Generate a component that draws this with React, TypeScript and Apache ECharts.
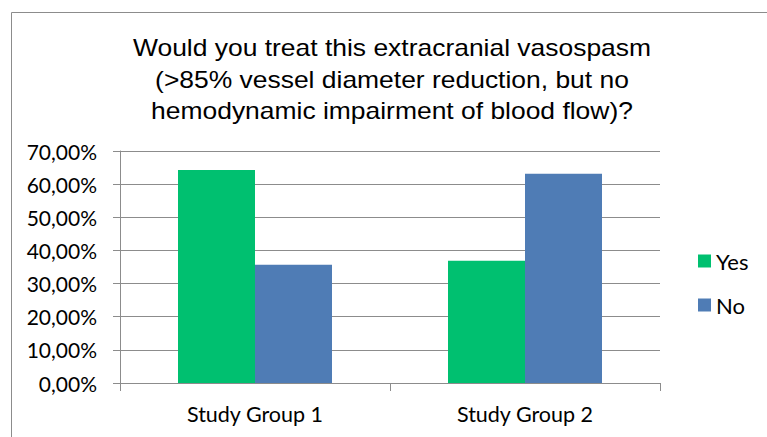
import React, { useEffect, useRef } from "react";
import * as echarts from "echarts";

const categories = ["Study Group 1", "Study Group 2"];
const yesValues = [64.3, 36.9];
const noValues = [35.7, 63.1];
const seriesNames = ["Yes", "No"];
const titleLines = [
  "Would you treat this extracranial vasospasm",
  "(>85% vessel diameter reduction, but no",
  "hemodynamic impairment of blood flow)?",
];

export default function App() {
  const ref = useRef<HTMLDivElement>(null);
  useEffect(() => {
    if (!ref.current) return;
    const chart = echarts.init(ref.current, null, { renderer: "svg" });
    const font = "Lato, 'Open Sans', sans-serif";
    const titleY = [48, 80, 111];
    chart.setOption({
      animation: false,
      backgroundColor: "#ffffff",
      graphic: [
        {
          type: "rect",
          shape: { x: 11.5, y: 12.5, width: 800, height: 500 },
          style: { fill: "none", stroke: "#8c8c8c", lineWidth: 1 },
          silent: true,
        },
        ...titleLines.map((line, i) => ({
          type: "text",
          x: 392,
          y: titleY[i],
          scaleX: 1.15,
          silent: true,
          style: {
            text: line,
            fontFamily: "'Liberation Sans', Arial, sans-serif",
            fontSize: 23,
            fill: "#000",
            textAlign: "center",
            textVerticalAlign: "middle",
            verticalAlign: "middle",
          },
        })),
      ],
      legend: {
        orient: "vertical",
        left: 698,
        top: 250,
        padding: 0,
        itemWidth: 13,
        itemHeight: 13,
        itemGap: 22,
        icon: "rect",
        data: seriesNames,
        textStyle: { fontFamily: font, fontSize: 22, color: "#000" },
      },
      grid: { left: 120, right: 107, top: 151, bottom: 54, containLabel: false },
      xAxis: {
        type: "category",
        data: categories,
        axisLine: { lineStyle: { color: "#8c8c8c" } },
        axisTick: { show: true, length: 8, lineStyle: { color: "#8c8c8c" } },
        axisLabel: { fontFamily: font, fontSize: 21.5, color: "#000", margin: 20 },
      },
      yAxis: {
        type: "value",
        min: 0,
        max: 70,
        interval: 10,
        axisLine: { show: true, lineStyle: { color: "#8c8c8c" } },
        axisTick: { show: true, length: 7, lineStyle: { color: "#8c8c8c" } },
        splitLine: { lineStyle: { color: "#8c8c8c" } },
        axisLabel: {
          fontFamily: font,
          fontSize: 21,
          color: "#000",
          margin: 23,
          formatter: (v: number) => v.toFixed(2).replace(".", ",") + "%",
        },
      },
      series: [
        {
          name: seriesNames[0],
          type: "bar",
          data: yesValues,
          barWidth: 77,
          barGap: "0%",
          itemStyle: { color: "#00c070" },
        },
        {
          name: seriesNames[1],
          type: "bar",
          data: noValues,
          barWidth: 77,
          barGap: "0%",
          itemStyle: { color: "#4f7cb5" },
        },
      ],
    });
    return () => chart.dispose();
  }, []);
  return (
    <div
      ref={ref}
      style={{ position: "absolute", left: 0, top: 0, width: 767, height: 437 }}
    />
  );
}
